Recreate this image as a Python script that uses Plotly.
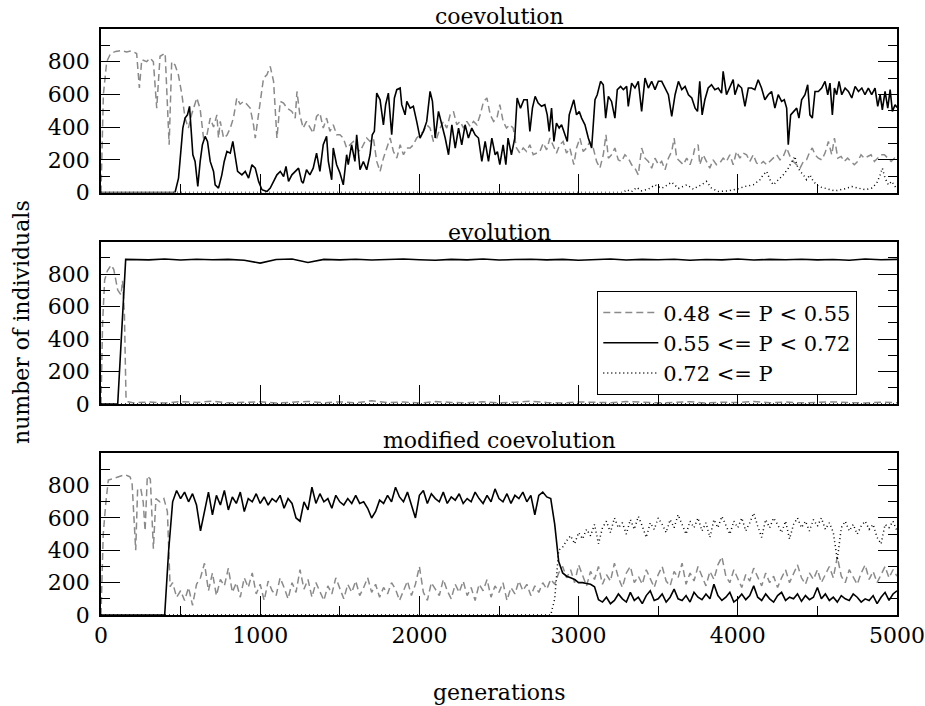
import plotly.graph_objects as go

# ---------------- data (generation, number of individuals) ----------------
# Panel 1: coevolution
c1_dash = [(0,0),(15,600),(36,800),(60,850),(92,863),(130,868),(160,860),(190,866),(224,850),(241,640),(256,812),(287,800),(308,822),(329,800),(350,516),(371,833),(403,853),(428,292),(444,800),(465,780),(486,720),(508,600),(528,455),(549,394),(570,480),(602,578),(623,510),(644,333),(665,350),(686,455),(707,400),(728,475),(738,333),(749,435),(770,333),(791,350),(812,394),(832,455),(853,578),(874,540),(895,557),(916,540),(937,516),(958,414),(969,333),(990,475),(1021,700),(1042,720),(1063,771),(1084,680),(1105,333),(1126,557),(1147,547),(1168,516),(1199,496),(1220,455),(1231,618),(1249,475),(1270,394),(1291,435),(1312,394),(1333,363),(1354,465),(1375,486),(1396,394),(1417,455),(1438,374),(1459,414),(1480,353),(1501,353),(1522,333),(1543,272),(1564,292),(1585,312),(1606,272),(1627,251),(1648,292),(1669,333),(1690,312),(1711,333),(1732,190),(1753,129),(1774,210),(1795,272),(1816,333),(1837,251),(1858,210),(1879,292),(1900,231),(1921,272),(1942,272),(1962,292),(1983,333),(2004,353),(2025,374),(2046,414),(2067,394),(2088,312),(2109,333),(2130,394),(2151,435),(2172,394),(2193,475),(2214,496),(2235,414),(2256,435),(2277,394),(2298,435),(2319,404),(2340,435),(2361,414),(2382,475),(2403,557),(2424,578),(2445,475),(2466,435),(2487,455),(2505,537),(2526,435),(2547,394),(2568,414),(2589,394),(2610,272),(2631,241),(2652,272),(2673,251),(2694,292),(2715,231),(2736,241),(2757,251),(2778,302),(2799,261),(2820,333),(2840,282),(2861,241),(2882,292),(2903,312),(2924,241),(2945,272),(2970,170),(2987,272),(3008,333),(3029,251),(3050,272),(3071,312),(3092,272),(3113,190),(3134,149),(3155,231),(3172,353),(3187,210),(3207,231),(3228,272),(3249,200),(3270,190),(3291,231),(3312,210),(3333,170),(3354,149),(3375,108),(3396,272),(3417,210),(3438,190),(3459,149),(3480,210),(3501,170),(3522,190),(3543,139),(3564,210),(3585,251),(3600,333),(3616,210),(3637,190),(3658,170),(3679,210),(3700,170),(3721,231),(3730,272),(3751,292),(3761,170),(3782,231),(3803,190),(3824,149),(3845,200),(3866,170),(3887,180),(3908,210),(3929,190),(3950,231),(3971,170),(3992,251),(4013,210),(4034,241),(4055,231),(4076,190),(4097,231),(4118,180),(4139,170),(4160,190),(4181,170),(4202,190),(4223,210),(4244,231),(4265,200),(4286,221),(4307,272),(4328,221),(4349,190),(4370,170),(4391,149),(4412,190),(4432,200),(4453,251),(4468,272),(4485,231),(4506,210),(4527,200),(4548,241),(4569,312),(4590,231),(4607,333),(4628,210),(4649,221),(4669,190),(4690,210),(4711,190),(4732,170),(4753,190),(4774,231),(4795,210),(4816,221),(4837,231),(4858,190),(4879,210),(4900,231),(4921,231),(4942,210),(4963,190),(4984,210),(5000,200)]

c1_solid = [(0,0),(465,0),(487,88),(497,210),(514,394),(528,455),(543,475),(556,527),(565,414),(577,231),(591,190),(608,37),(623,190),(637,292),(654,343),(669,312),(686,190),(707,129),(717,47),(738,27),(759,108),(774,190),(791,251),(812,241),(828,312),(843,210),(858,129),(885,108),(906,129),(927,88),(948,170),(969,149),(990,68),(1011,17),(1042,6),(1063,27),(1084,68),(1105,108),(1126,129),(1147,98),(1162,159),(1178,68),(1199,108),(1220,129),(1241,149),(1260,68),(1270,57),(1291,139),(1312,108),(1333,149),(1354,241),(1375,129),(1396,292),(1417,343),(1428,190),(1449,78),(1459,272),(1480,170),(1501,119),(1522,47),(1532,149),(1543,231),(1553,170),(1574,292),(1595,190),(1606,353),(1627,139),(1648,190),(1669,139),(1690,231),(1704,353),(1717,374),(1732,608),(1753,567),(1774,414),(1788,537),(1805,608),(1826,353),(1843,578),(1858,629),(1879,639),(1889,537),(1910,475),(1921,557),(1942,516),(1962,527),(1983,435),(2004,333),(2025,374),(2046,435),(2067,618),(2082,557),(2099,333),(2120,496),(2141,414),(2162,333),(2183,231),(2204,414),(2225,272),(2246,394),(2266,292),(2287,414),(2308,333),(2329,394),(2350,353),(2371,333),(2392,190),(2413,312),(2434,190),(2455,333),(2476,231),(2490,250),(2505,170),(2526,292),(2543,170),(2557,333),(2578,231),(2599,333),(2614,578),(2635,516),(2656,567),(2677,567),(2694,374),(2710,516),(2727,588),(2746,547),(2767,527),(2788,537),(2803,475),(2815,374),(2830,516),(2845,312),(2861,425),(2878,394),(2893,414),(2914,353),(2929,312),(2941,475),(2956,516),(2970,567),(2987,475),(3004,496),(3019,455),(3040,414),(3061,333),(3082,272),(3103,567),(3117,598),(3138,680),(3155,659),(3170,455),(3187,588),(3207,557),(3228,455),(3243,629),(3264,649),(3281,629),(3302,649),(3312,527),(3333,669),(3354,639),(3375,680),(3396,496),(3417,700),(3438,639),(3459,680),(3480,629),(3501,680),(3522,680),(3543,639),(3564,598),(3585,465),(3606,598),(3627,680),(3648,629),(3669,649),(3690,598),(3711,578),(3732,516),(3747,496),(3761,680),(3776,475),(3793,567),(3814,639),(3835,659),(3856,629),(3877,639),(3898,608),(3908,741),(3929,598),(3950,639),(3971,690),(3982,598),(4003,659),(4024,639),(4045,527),(4066,639),(4086,639),(4107,629),(4128,690),(4149,639),(4170,567),(4191,598),(4212,618),(4233,516),(4254,598),(4275,557),(4292,567),(4307,516),(4317,292),(4332,475),(4349,496),(4370,516),(4384,455),(4401,567),(4422,598),(4439,659),(4453,475),(4468,455),(4485,618),(4506,618),(4527,639),(4548,680),(4565,598),(4579,669),(4594,475),(4607,639),(4621,598),(4636,680),(4653,598),(4674,639),(4695,618),(4716,578),(4737,649),(4758,618),(4779,639),(4799,598),(4820,639),(4841,598),(4862,639),(4879,527),(4894,598),(4908,506),(4925,618),(4942,516),(4957,629),(4971,496),(4988,537),(5000,520)]

c1_dot = [(0,0),(3281,0),(3302,17),(3333,5),(3365,31),(3396,10),(3438,20),(3480,47),(3522,25),(3585,63),(3627,25),(3679,47),(3721,20),(3730,27),(3772,47),(3803,68),(3835,27),(3877,6),(3940,10),(4003,23),(4045,37),(4097,47),(4139,78),(4160,108),(4181,129),(4202,78),(4223,47),(4244,68),(4265,88),(4286,108),(4317,149),(4338,190),(4359,221),(4370,170),(4391,129),(4412,108),(4432,78),(4453,108),(4474,68),(4506,37),(4548,27),(4611,10),(4674,23),(4716,37),(4757,27),(4799,17),(4841,27),(4873,57),(4894,108),(4908,149),(4925,88),(4946,47),(4967,68),(4988,37),(5000,20)]

# Panel 2: evolution
e_dash_start = [(0,0),(10,500),(23,764),(40,820),(63,856),(80,830),(105,702),(126,672),(135,760),(147,558),(157,45),(170,14)]
e_dash_gen0, e_dash_step = 200, 100
e_dash_vals = [8,12,6,15,9,18,7,11,14,6,10,16,8,13,7,20,9,12,6,15,10,8,14,7,11,17,9,6,13,10,8,15,12,7,10,14,6,11,9,16,8,12,7,10,13,9,6,11,8]
e_solid_start = [(0,0),(105,0),(155,891)]
e_solid_gen0, e_solid_step = 200, 100
e_solid_vals = [890,888,893,887,892,889,891,886,868,890,893,872,891,888,892,887,890,893,889,886,891,888,893,887,890,892,888,891,886,890,893,887,891,889,892,886,890,888,893,887,891,889,892,888,890,886,893,889,891]
e_dot = [(0,0),(5000,0)]

# Panel 3: modified coevolution
m_dash_start = [(0,0),(14,500),(30,690),(46,835),(80,845),(120,858),(150,868),(170,860),(182,855),(195,820),(205,600),(218,400),(230,780),(250,780),(265,700),(277,520),(291,860),(310,840),(329,410),(345,720),(370,700),(395,720),(417,640),(434,175)]
m_dash_gen0, m_dash_step = 450, 25
m_dash_vals = [200,110,150,90,170,60,190,230,320,150,
               260,120,220,180,290,140,200,110,230,170,
               260,130,190,90,210,150,120,230,170,100,
               200,140,280,160,220,110,200,150,90,180,
               130,230,160,100,190,140,210,120,170,230,
               140,190,110,170,130,200,160,90,150,210,
               120,190,300,140,90,200,160,120,220,150,
               100,190,140,210,120,170,90,190,150,220,
               110,180,140,200,90,170,130,210,150,190,
               120,180,140,200,160,220,190,
               260,300,230,280,200,310,240,180,270,220,
               300,190,250,210,320,230,170,260,300,200,
               240,190,280,230,170,250,300,210,180,270,
               230,320,190,260,210,300,240,180,270,220,
               310,360,240,200,280,230,170,250,210,290,
               230,180,260,200,240,170,230,280,200,250,
               310,230,190,260,220,280,200,250,300,230,
               360,240,200,280,230,190,260,310,220,270,
               200,250,300,230,280,240]
m_solid_start = [(0,0)]
m_solid_gen0, m_solid_step = 400, 25
m_solid_vals = [0,400,700,770,720,760,700,750,680,520,
                640,760,620,740,680,770,650,730,690,760,
                640,720,700,750,690,730,680,720,700,740,
                660,720,690,600,580,700,650,790,690,750,
                700,720,660,740,700,680,720,690,740,690,
                700,660,600,640,710,690,740,700,790,730,
                700,760,680,600,740,770,690,750,720,700,
                760,690,730,710,750,690,720,700,760,720,
                690,740,700,780,720,700,750,690,740,720,
                760,700,740,620,740,760,730,720,560,330,
                260,240,230,220,200,200,195,190,175,95,
                80,110,70,90,130,100,80,140,90,110,
                70,120,150,90,100,130,80,110,160,100,
                90,120,80,140,110,95,130,100,190,120,
                90,110,140,80,100,130,95,120,180,110,
                90,130,100,80,120,140,90,110,100,130,
                85,120,95,110,170,100,130,90,110,80,
                120,100,90,130,110,80,100,90,120,70,
                110,140,90,130,150]
m_dot_start = [(0,0),(2825,0)]
m_dot_gen0, m_dot_step = 2850, 25
m_dot_vals = [100,400,420,460,490,440,510,470,530,490,
              560,440,540,580,510,600,540,570,500,590,
              530,610,550,480,570,530,600,560,510,590,
              540,620,560,500,580,540,600,520,570,480,
              590,540,610,560,500,580,540,600,520,570,
              630,550,480,590,540,600,560,510,580,470,
              560,600,540,580,520,590,550,600,530,570,
              510,340,540,580,520,560,500,550,580,530,
              560,480,440,560,540,580,520]

x_tick_vals = [0, 1000, 2000, 3000, 4000, 5000]
x_minor_vals = [500, 1500, 2500, 3500, 4500]
y_tick_vals = [0, 200, 400, 600, 800]
y_minor_vals = [100, 300, 500, 700, 900]
panel_titles = ["coevolution", "evolution", "modified coevolution"]
legend_names = ["0.48 &lt;= P &lt; 0.55", "0.55 &lt;= P &lt; 0.72", "0.72 &lt;= P"]
x_title = "generations"
y_title = "number of individuals"


def series(start, gen0=None, step=None, vals=None):
    xs = [p[0] for p in start]
    ys = [p[1] for p in start]
    if vals is not None:
        xs += [gen0 + step * i for i in range(len(vals))]
        ys += list(vals)
    return xs, ys


FONT = "DejaVu Serif"
FS = 22
GRAY = "#8a8a8a"
styles = [
    dict(color=GRAY, width=1.5, dash="7px,4px"),
    dict(color="black", width=1.6),
    dict(color="black", width=1.5, dash="1px,3px"),
]

panels = [
    [series(c1_dash), series(c1_solid), series(c1_dot)],
    [series(e_dash_start, e_dash_gen0, e_dash_step, e_dash_vals),
     series(e_solid_start, e_solid_gen0, e_solid_step, e_solid_vals),
     series(e_dot)],
    [series(m_dash_start, m_dash_gen0, m_dash_step, m_dash_vals),
     series(m_solid_start, m_solid_gen0, m_solid_step, m_solid_vals),
     series(m_dot_start, m_dot_gen0, m_dot_step, m_dot_vals)],
]

W, H = 925, 706
ML, MR, MT, MB = 101, 28, 29, 91
PH = H - MT - MB


def ydom(top_px, bottom_px):
    return [(H - MB - bottom_px) / PH, (H - MB - top_px) / PH]


domains = [ydom(29, 192.5), ydom(241.7, 404), ydom(453.3, 615)]
title_px = [16, 232, 440]

fig = go.Figure()
for i, pan in enumerate(panels):
    ax = "" if i == 0 else str(i + 1)
    for j, (xs, ys) in enumerate(pan):
        fig.add_trace(go.Scatter(
            x=xs, y=ys, mode="lines", line=styles[j],
            name=legend_names[j], showlegend=(i == 0),
            xaxis="x" + ax, yaxis="y" + ax, hoverinfo="skip"))

layout = dict(
    width=W, height=H,
    margin=dict(l=ML, r=MR, t=MT, b=MB, autoexpand=False),
    paper_bgcolor="white", plot_bgcolor="white",
    font=dict(family=FONT, size=FS, color="black"),
    legend=dict(x=(597 - ML) / (W - ML - MR), y=(H - MB - 291) / PH,
                xanchor="left", yanchor="top",
                bordercolor="black", borderwidth=1.3, bgcolor="white",
                font=dict(family=FONT, size=21, color="black"),
                tracegroupgap=0, itemwidth=55),
    annotations=[],
)
for i in range(3):
    ax = "" if i == 0 else str(i + 1)
    layout["xaxis" + ax] = dict(
        domain=[0, 1], range=[0, 5000], anchor="y" + ax, automargin=False,
        tickmode="array", tickvals=x_tick_vals,
        showticklabels=(i == 2), ticks="inside", ticklen=19, tickwidth=1.2,
        tickcolor="black", ticklabelstandoff=0, ticklabeloverflow="allow",
        minor=dict(tickmode="array", tickvals=x_minor_vals, ticks="inside",
                   ticklen=9, tickwidth=1.2, tickcolor="black", showgrid=False),
        showline=True, linecolor="black", linewidth=1.5, mirror=True,
        showgrid=False, zeroline=False,
        tickfont=dict(family=FONT, size=FS, color="black"))
    layout["yaxis" + ax] = dict(
        domain=domains[i], range=[0, 1000], anchor="x" + ax, automargin=False,
        tickmode="array", tickvals=y_tick_vals,
        ticks="inside", ticklen=19, tickwidth=1.2, tickcolor="black",
        ticklabelstandoff=5,
        minor=dict(tickmode="array", tickvals=y_minor_vals, ticks="inside",
                   ticklen=9, tickwidth=1.2, tickcolor="black", showgrid=False),
        showline=True, linecolor="black", linewidth=1.5, mirror="ticks",
        showgrid=False, zeroline=False,
        tickfont=dict(family=FONT, size=FS, color="black"))
    layout["annotations"].append(dict(
        text=panel_titles[i], xref="paper", yref="paper",
        x=0.5, y=(H - MB - title_px[i]) / PH, xanchor="center", yanchor="middle",
        showarrow=False, font=dict(family=FONT, size=FS, color="black")))

layout["annotations"].append(dict(
    text=y_title, xref="paper", yref="paper", textangle=-90,
    x=(21 - ML) / (W - ML - MR), y=(H - MB - 322) / PH,
    xanchor="center", yanchor="middle", showarrow=False,
    font=dict(family=FONT, size=FS, color="black")))
layout["annotations"].append(dict(
    text=x_title, xref="paper", yref="paper",
    x=(499 - ML) / (W - ML - MR), y=(H - MB - 692) / PH,
    xanchor="center", yanchor="middle", showarrow=False,
    font=dict(family=FONT, size=FS, color="black")))

fig.update_layout(**layout)
fig.write_html("out.html", config={"displayModeBar": False},
               post_script="document.body.style.margin='0';document.body.style.padding='0';")
